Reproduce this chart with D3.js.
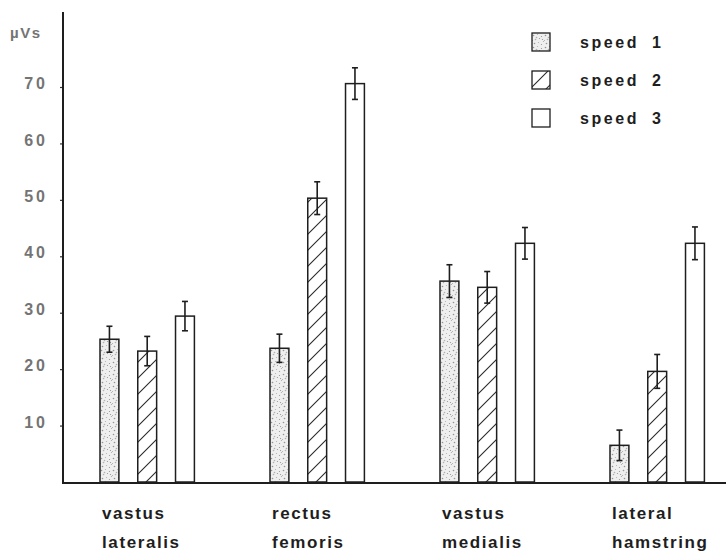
<!DOCTYPE html>
<html>
<head>
<meta charset="utf-8">
<script src="https://cdn.jsdelivr.net/npm/d3@7"></script>
<style>
  body { margin: 0; background: #fff; }
  svg { display: block; }
  .tick text { font-family: "Liberation Sans", Arial, sans-serif; font-weight: bold; fill: #747474; font-size: 16px; letter-spacing: 3px; }
  .unit { font-family: "Liberation Sans", Arial, sans-serif; font-weight: bold; fill: #747474; font-size: 15px; letter-spacing: 1.5px; }
  .cat, .leg { font-family: "Liberation Sans", Arial, sans-serif; font-weight: bold; fill: #1e1e1e; font-size: 17px; letter-spacing: 1.6px; }
  .leg { font-size: 16px; letter-spacing: 2.6px; }
</style>
</head>
<body>
<svg id="chart" width="726" height="554"></svg>
<script>
// data ////////////////////////////////////////////////////
var muscles = [['vastus', 'lateralis'], ['rectus', 'femoris'], ['vastus', 'medialis'], ['lateral', 'hamstring']];
var speeds = ['speed', 'speed', 'speed'];
var speedNums = ['1', '2', '3'];
var speed1 = [25.3, 23.7, 35.6, 6.5];
var speed2 = [23.2, 50.3, 34.5, 19.6];
var speed3 = [29.4, 70.6, 42.3, 42.3];
var err1 = [2.3, 2.5, 2.9, 2.7];
var err2 = [2.6, 2.9, 2.8, 3.0];
var err3 = [2.6, 2.8, 2.8, 2.9];
var yTicks = [10, 20, 30, 40, 50, 60, 70];

var svg = d3.select('#chart');
var series = [speed1, speed2, speed3], errs = [err1, err2, err3];
var fills = ['url(#stipple)', 'url(#hatch)', '#fff'];

// patterns
var defs = svg.append('defs');
var st = defs.append('pattern').attr('id', 'stipple').attr('patternUnits', 'userSpaceOnUse')
  .attr('width', 12).attr('height', 12);
st.append('rect').attr('width', 12).attr('height', 12).attr('fill', '#efefef');
[[1,2],[5,1],[9,3],[3,6],[7,5],[11,8],[2,10],[6,9],[9,11],[4,4],[10,6],[0,7]].forEach(function(p, i) {
  st.append('circle').attr('cx', p[0] + 0.5).attr('cy', p[1] + 0.5).attr('r', i % 3 ? 0.6 : 0.8)
    .attr('fill', i % 2 ? '#b0b0b0' : '#949494');
});
var ht = defs.append('pattern').attr('id', 'hatch').attr('patternUnits', 'userSpaceOnUse')
  .attr('width', 16).attr('height', 16);
ht.append('rect').attr('width', 16).attr('height', 16).attr('fill', '#fff');
ht.append('path').attr('d', 'M-4,20 L20,-4 M-4,4 L4,-4 M12,20 L20,12')
  .attr('stroke', '#2a2a2a').attr('stroke-width', 1.1);

// scales
var y = d3.scaleLinear().domain([0, 70]).range([482, 87]);
var x0 = d3.scaleBand().domain(d3.range(muscles.length)).range([100, 780]);
var x1 = d3.scaleBand().domain(d3.range(speeds.length)).range([0, 94.4]).paddingInner(0.5);

// axes
var yAxis = d3.axisLeft(y).tickValues(yTicks).tickSize(3).tickPadding(12);
var ga = svg.append('g').attr('transform', 'translate(63,0)').call(yAxis);
ga.select('.domain').remove();
ga.selectAll('.tick line').attr('stroke', '#333').attr('stroke-width', 1.2);
ga.selectAll('.tick text').attr('dy', '0.1em');
svg.append('line').attr('x1', 63).attr('x2', 63).attr('y1', 12).attr('y2', 483)
  .attr('stroke', '#1e1e1e').attr('stroke-width', 2);
svg.append('line').attr('x1', 62).attr('x2', 726).attr('y1', 483).attr('y2', 483)
  .attr('stroke', '#1e1e1e').attr('stroke-width', 2);
svg.append('text').attr('class', 'unit').attr('x', 10).attr('y', 38).text('µVs');

// bars
var groups = svg.append('g').selectAll('g').data(muscles).join('g')
  .attr('transform', function(d, i) { return 'translate(' + x0(i) + ',0)'; });

series.forEach(function(vals, s) {
  groups.append('rect')
    .attr('x', x1(s)).attr('width', x1.bandwidth())
    .attr('y', function(d, i) { return y(vals[i]); })
    .attr('height', function(d, i) { return y(0) - y(vals[i]); })
    .attr('fill', fills[s]).attr('stroke', '#1e1e1e').attr('stroke-width', 1.5);
  var eb = groups.append('g').attr('stroke', '#1e1e1e').attr('stroke-width', 1.6);
  var cx = x1(s) + x1.bandwidth() / 2;
  eb.append('line').attr('x1', cx).attr('x2', cx)
    .attr('y1', function(d, i) { return y(vals[i] + errs[s][i]); })
    .attr('y2', function(d, i) { return y(vals[i] - errs[s][i]); });
  [1, -1].forEach(function(sign) {
    eb.append('line').attr('x1', cx - 3).attr('x2', cx + 3)
      .attr('y1', function(d, i) { return y(vals[i] + sign * errs[s][i]); })
      .attr('y2', function(d, i) { return y(vals[i] + sign * errs[s][i]); });
  });
});

// category labels
groups.append('text').attr('class', 'cat').attr('x', 2).attr('y', 519).text(function(d) { return d[0]; });
groups.append('text').attr('class', 'cat').attr('x', 2).attr('y', 548).text(function(d) { return d[1]; });

// legend
var leg = svg.append('g').selectAll('g').data(speeds).join('g')
  .attr('transform', function(d, i) { return 'translate(532,' + (33 + i * 38) + ')'; });
leg.append('rect').attr('width', 18).attr('height', 18)
  .attr('fill', function(d, i) { return fills[i]; })
  .attr('stroke', '#1e1e1e').attr('stroke-width', 1.3);
leg.append('text').attr('class', 'leg').attr('x', 48).attr('y', 15).text(function(d) { return d; });
leg.append('text').attr('class', 'leg').attr('x', 120).attr('y', 15).text(function(d, i) { return speedNums[i]; });
</script>
</body>
</html>
